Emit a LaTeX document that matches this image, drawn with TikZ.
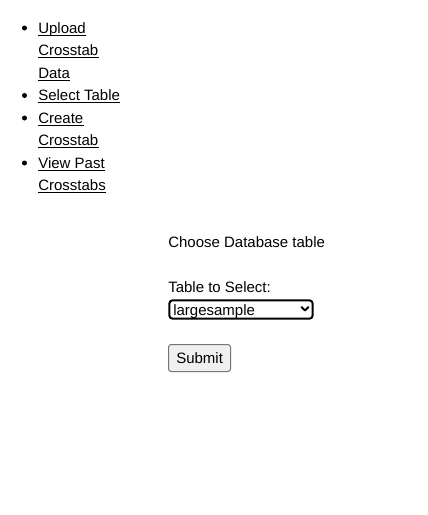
\documentclass[tikz,border=0pt]{standalone}
\usepackage{fontspec}
\setmainfont{Liberation Sans}

\tikzset{
    txt/.style={anchor=base west, inner sep=0pt, font=\fontsize{11.25pt}{13pt}\selectfont, text=black},
    link/.style={txt},
    uline/.style={line width=0.75pt},
}

\begin{document}
\begin{tikzpicture}[x=0.75pt, y=-0.75pt]

    % Page
    \useasboundingbox (0,0) rectangle (428,515);
    \fill[white] (0,0) rectangle (428,515);

    %% Navigation list
    % Bullets
    \foreach \y in {28, 95.5, 118, 163} {
        \fill (24.5,\y) circle (2.5);
    }

    % Links
    \node[link] (up1) at (38,33) {Upload};
    \node[link] (up2) at (38,55.5) {Crosstab};
    \node[link] (up3) at (38,78) {Data};
    \node[link] (sel) at (38,100.5) {Select Table};
    \node[link] (cr1) at (38,123) {Create};
    \node[link] (cr2) at (38,145.5) {Crosstab};
    \node[link] (vp1) at (38,168) {View Past};
    \node[link] (vp2) at (38,190.5) {Crosstabs};

    % Underlines
    \foreach \n in {up1, up2, up3, sel, cr1, cr2, vp1, vp2} {
        \draw[uline] ([yshift=-1.6pt]\n.base west) -- ([yshift=-1.6pt]\n.base east);
    }

    %% Form
    \node[txt] (title) at (168,247) {Choose Database table};
    \node[txt] (label) at (168,292) {Table to Select:};

    % Select box
    \draw[line width=1.5pt, rounded corners=2.5pt] (169.3,300.3) rectangle (312.7,318.7);
    \node[txt] (choice) at (173,315) {largesample};
    \draw[line width=1.5pt, line cap=round, line join=round] (301.5,307) -- (305,310.5) -- (308.5,307);

    % Submit button
    \draw[draw=black!54, fill=black!6, line width=0.75pt, rounded corners=2pt] (168.5,344.5) rectangle (230.5,371.5);
    \node[txt] (submit) at (176,363) {Submit};

\end{tikzpicture}
\end{document}
